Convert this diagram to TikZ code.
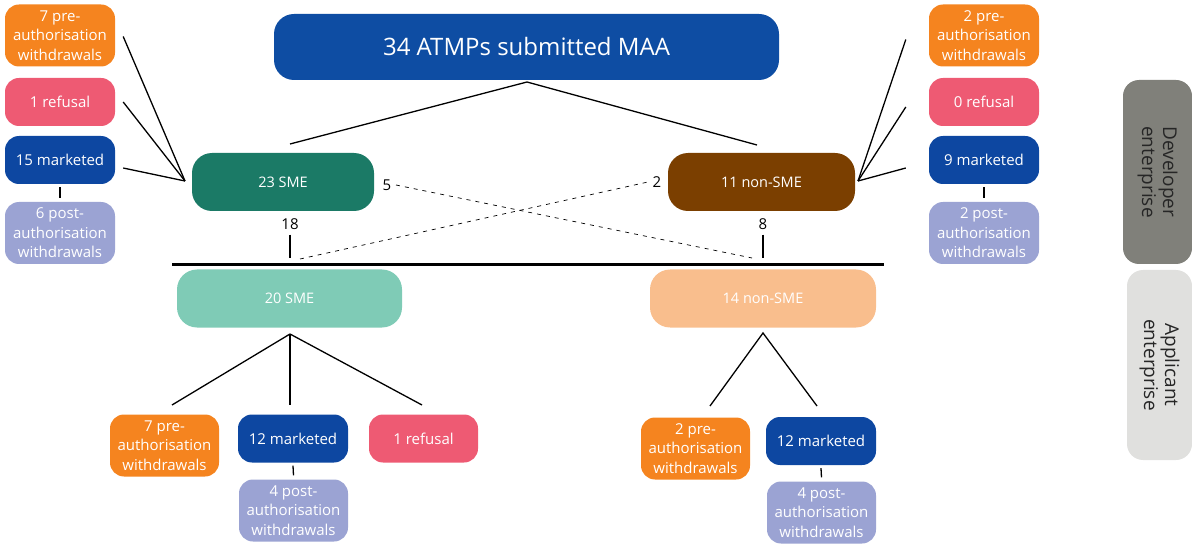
\documentclass[tikz,border=0pt]{standalone}
\usepackage{fontspec}
\setmainfont{Open Sans}
\definecolor{corange}{HTML}{F5841F}
\definecolor{cpink}{HTML}{EE5A73}
\definecolor{cblue}{HTML}{0D47A1}
\definecolor{clav}{HTML}{9BA3D3}
\definecolor{cteal}{HTML}{1B7A66}
\definecolor{cbrown}{HTML}{7B3F00}
\definecolor{cmint}{HTML}{7FCBB6}
\definecolor{cpeach}{HTML}{F9BE8D}
\definecolor{cdgray}{HTML}{80807A}
\definecolor{clgray}{HTML}{E0E0DE}
\definecolor{ctitle}{HTML}{0E4DA3}
\tikzset{
  box/.style={rectangle, rounded corners=14pt, text=white, align=center, inner sep=0pt,
    font=\fontsize{15}{19.5}\selectfont},
  small/.style={box, minimum width=110pt, minimum height=48pt},
  tall/.style={box, minimum width=110pt, minimum height=62pt},
  mid/.style={box, rounded corners=20pt, minimum height=58pt, font=\fontsize{14.5}{19}\selectfont},
  side/.style={rectangle, rounded corners=16pt, align=center, text=black!85, inner sep=0pt,
    font=\fontsize{19}{21}\selectfont},
  conn/.style={line width=1.3pt, black},
  dconn/.style={line width=0.7pt, black, dash pattern=on 4pt off 5pt},
  num/.style={font=\fontsize{15}{16}\selectfont, inner sep=0pt}
}
\begin{document}
\begin{tikzpicture}[x=1pt,y=-1pt]
\useasboundingbox (0,0) rectangle (1192,548);
% title
\node[box, fill=ctitle, rounded corners=20pt, minimum width=505pt, minimum height=66pt,
  font=\fontsize{24}{26}\selectfont] (title) at (526.5,47) {34 ATMPs submitted MAA};
% left column
\node[tall, fill=corange] (lpre) at (60,35.5) {7 pre-\\authorisation\\withdrawals};
\node[small, fill=cpink] (lref) at (60,102) {1 refusal};
\node[small, fill=cblue] (lmar) at (60,160) {15 marketed};
\node[tall, fill=clav] (lpost) at (60,233) {6 post-\\authorisation\\withdrawals};
% right column
\node[tall, fill=corange] (rpre) at (984,35.5) {2 pre-\\authorisation\\withdrawals};
\node[small, fill=cpink] (rref) at (984,102) {0 refusal};
\node[small, fill=cblue] (rmar) at (984,160) {9 marketed};
\node[tall, fill=clav] (rpost) at (984,233) {2 post-\\authorisation\\withdrawals};
% developer level
\node[mid, fill=cteal, minimum width=182pt] (dsme) at (283,182) {23 SME};
\node[mid, fill=cbrown, minimum width=187pt] (dnon) at (761.5,182) {11 non-SME};
% applicant level
\node[mid, fill=cmint, minimum width=225pt] (asme) at (289.5,298.5) {20 SME};
\node[mid, fill=cpeach, minimum width=226pt] (anon) at (763,298.5) {14 non-SME};
% bottom left
\node[tall, fill=corange, minimum width=109pt] (bpre) at (164.5,445.5) {7 pre-\\authorisation\\withdrawals};
\node[small, fill=cblue] (bmar) at (293,438.5) {12 marketed};
\node[small, fill=cpink, minimum width=109pt] (bref) at (423.5,438.5) {1 refusal};
\node[tall, fill=clav, minimum width=109pt] (bpost) at (293.5,510.5) {4 post-\\authorisation\\withdrawals};
% bottom right
\node[tall, fill=corange, minimum width=109pt] (cpre) at (695.5,448.5) {2 pre-\\authorisation\\withdrawals};
\node[small, fill=cblue] (cmar) at (821,441) {12 marketed};
\node[tall, fill=clav, minimum width=109pt] (cpost) at (821.5,512.5) {4 post-\\authorisation\\withdrawals};
% side labels
\node[side, fill=cdgray, minimum width=184pt, minimum height=69pt, rotate=-90] (dev) at (1157.5,172) {Developer\\enterprise};
\node[side, fill=clgray, minimum width=190pt, minimum height=65pt, rotate=-90] (app) at (1159.5,365) {Applicant\\enterprise};
% numbers
\node[num] (n5) at (387,185) {5};
\node[num] (n18) at (290,224) {18};
\node[num] (n2) at (657,182) {2};
\node[num] (n8) at (763,224) {8};
% divider
\coordinate (hl) at (172,265);
\coordinate (hr) at (884,265);
\draw[line width=3pt] (hl) -- (hr);
% title fan
\coordinate (tb) at (527,82);
\coordinate (ts) at (290,144);
\coordinate (tn) at (757,145);
\draw[conn] (ts) -- (tb) -- (tn);
% left fan
\coordinate (lf) at (185,181);
\draw[conn] ([xshift=8pt,yshift=-1pt]lpre.east) -- (lf);
\draw[conn] ([xshift=8pt]lref.east) -- (lf);
\draw[conn] ([xshift=8pt,yshift=-8pt]lmar.east) -- (lf);
\draw[conn] ([yshift=-3pt]lmar.south) -- ([yshift=4pt]lpost.north);
% right fan
\coordinate (rf) at (858,181);
\draw[conn] ([xshift=-23pt,yshift=-4pt]rpre.west) -- (rf);
\draw[conn] ([xshift=-23pt,yshift=-5pt]rref.west) -- (rf);
\draw[conn] ([xshift=-23pt,yshift=-8pt]rmar.west) -- (rf);
\draw[conn] ([yshift=-3pt]rmar.south) -- ([yshift=4pt]rpost.north);
% vertical stubs
\coordinate (s18) at (290,258);
\coordinate (s8) at (763,258);
\draw[conn] ([yshift=-5pt]n18.south) -- (s18);
\draw[conn] ([yshift=-5pt]n8.south) -- (s8);
% dashed crossings
\coordinate (d1a) at (300,259);
\coordinate (d1b) at (648,182);
\coordinate (d2a) at (396,185);
\coordinate (d2b) at (752,258);
\draw[dconn] (d1a) -- (d1b);
\draw[dconn] (d2a) -- (d2b);
% applicant fans
\coordinate (af) at (290,334);
\coordinate (bl) at (172,405);
\coordinate (bm) at (290,405);
\coordinate (br) at (422,405);
\draw[conn] (af) -- (bl);
\draw[conn] (af) -- (bm);
\draw[conn] (af) -- (br);
\draw[conn] ([yshift=-3pt]bmar.south) -- ([yshift=4pt]bpost.north);
\coordinate (nf) at (763,333);
\coordinate (nl) at (710,406);
\coordinate (nr) at (817,406);
\draw[conn] (nl) -- (nf) -- (nr);
\draw[conn] ([yshift=-3pt]cmar.south) -- ([yshift=4pt]cpost.north);
\end{tikzpicture}
\end{document}
